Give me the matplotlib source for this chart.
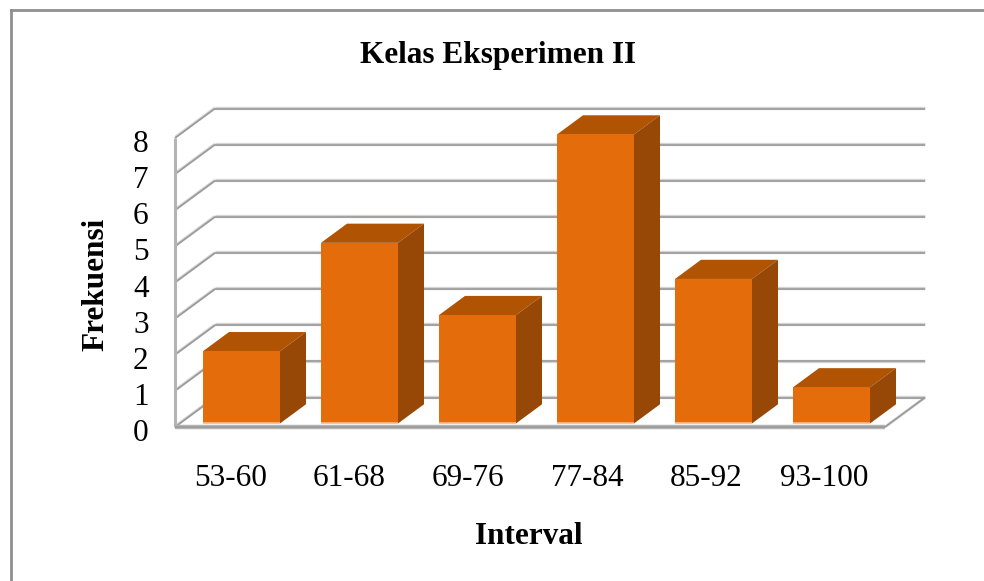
import matplotlib
matplotlib.use("Agg")
import matplotlib.pyplot as plt
import numpy as np
from matplotlib.patches import Polygon
from matplotlib.lines import Line2D
from matplotlib.transforms import ScaledTranslation

categories = ["53-60", "61-68", "69-76", "77-84", "85-92", "93-100"]
values = [2, 5, 3, 8, 4, 1]
y_ticks = [0, 1, 2, 3, 4, 5, 6, 7, 8]

W, H = 984, 581
FRONT, TOP, SIDE, EDGE = "#E46C0A", "#B05404", "#974706", "#F7B98A"
GRID_D, GRID_L, WALL = "#9A9A9A", "#D4D4D4", "#B4B4B4"
FS = 22.5

plt.rcParams["font.family"] = ["Liberation Serif", "DejaVu Serif"]
fig = plt.figure(figsize=(W / 100, H / 100), dpi=100, facecolor="white")
L, R, T, B = 175, 885, 138, 427
ax = fig.add_axes([L / W, 1 - B / H, (R - L) / W, (B - T) / H])
ax.set_facecolor("none")

cat_px = 118.0
x0_px = 236.7
ax.set_xlim((L - x0_px) / cat_px, (R - x0_px) / cat_px)
ax.set_ylim(0, 8)
unit_px = (B - T) / 8
DX = 40 / cat_px      # depth vector in data units
DY = 29.5 / unit_px
xl, xr = ax.get_xlim()


def proj(x, y, d):
    return (x + DX * d, y + DY * d)


def line(p, q, color, lw, z=1, dy=0.0):
    ax.add_line(Line2D([p[0], q[0]], [p[1] + dy, q[1] + dy], color=color, lw=lw,
                       zorder=z, clip_on=False, solid_capstyle="butt"))


# walls and gridlines
band = 1.6 / unit_px
for v in y_ticks:
    a, b, c = proj(xl, v, 0), proj(xl, v, 1), proj(xr, v, 1)
    line(b, c, GRID_L, 2.4, z=1, dy=band * 0.5)
    line(b, c, GRID_D, 1.2, z=1.1)
    line(a, b, GRID_L, 2.0, z=1, dy=band * 0.4)
    line(a, b, GRID_D, 1.2, z=1.1)
line(proj(xl, 0, 0), proj(xl, 8, 0), WALL, 2.2, z=1.2)
line(proj(xl, 0, 0), proj(xr, 0, 0), WALL, 3.2, z=1.2)
line(proj(xl, 0, 0), proj(xr, 0, 0), GRID_D, 1.2, z=1.3)
line(proj(xr, 0, 0), proj(xr, 0, 1), GRID_L, 2.0, z=1)
line(proj(xr, 0, 0), proj(xr, 0, 1), GRID_D, 1.2, z=1.1)

# 3-D bars
half = 77 / cat_px / 2
d0, d1 = 0.12, 0.77
for i, v in enumerate(values):
    xa, xb = i - half, i + half
    ax.add_patch(Polygon([proj(xa, v, d0), proj(xb, v, d0), proj(xb, v, d1), proj(xa, v, d1)],
                         fc=TOP, ec="none", zorder=3, clip_on=False))
    ax.add_patch(Polygon([proj(xb, 0, d0), proj(xb, 0, d1), proj(xb, v, d1), proj(xb, v, d0)],
                         fc=SIDE, ec="none", zorder=3, clip_on=False))
    ax.add_patch(Polygon([proj(xa, 0, d0), proj(xb, 0, d0), proj(xb, v, d0), proj(xa, v, d0)],
                         fc=FRONT, ec="none", zorder=4, clip_on=False))
    line(proj(xa, 0, d0), proj(xb, 0, d0), EDGE, 1.2, z=5)

# axes furniture
for s in ax.spines.values():
    s.set_visible(False)
ax.set_yticks(y_ticks)
ax.set_yticklabels([str(t) for t in y_ticks], fontsize=FS, color="black")
ax.set_xticks(np.arange(len(categories)) * 1.0068 - 0.052)
ax.set_xticklabels(categories, fontsize=FS, color="black")
ax.tick_params(axis="both", length=0)
ax.tick_params(axis="y", pad=19)
ax.tick_params(axis="x", pad=27)
shift = ScaledTranslation(0, -2.2 / 72, fig.dpi_scale_trans)
for lab in ax.get_yticklabels():
    lab.set_transform(lab.get_transform() + shift)

ax.set_xlabel("Interval", fontsize=FS, fontweight="bold")
ax.xaxis.set_label_coords(529 / W, 1 - 537 / H, transform=fig.transFigure)
ax.xaxis.label.set_va("center")
ax.set_ylabel("Frekuensi", fontsize=FS, fontweight="bold")
ax.yaxis.set_label_coords(96 / W, 1 - 284 / H, transform=fig.transFigure)
ax.yaxis.label.set_va("center")
ax.set_title("Kelas Eksperimen II", fontsize=FS, fontweight="bold", va="center", pad=0,
             x=(498 - L) / (R - L), y=(B - 56) / (B - T))

# outer chart border (runs off the picture on the right and at the bottom)
fig.add_artist(Line2D([11 / W, 11 / W], [0, 1 - 10 / H], color="#8F8F8F", lw=2.0,
                      transform=fig.transFigure, solid_capstyle="projecting"))
fig.add_artist(Line2D([11 / W, 1], [1 - 10 / H, 1 - 10 / H], color="#8F8F8F", lw=2.0,
                      transform=fig.transFigure, solid_capstyle="projecting"))

fig.savefig("out.png", dpi=100)
